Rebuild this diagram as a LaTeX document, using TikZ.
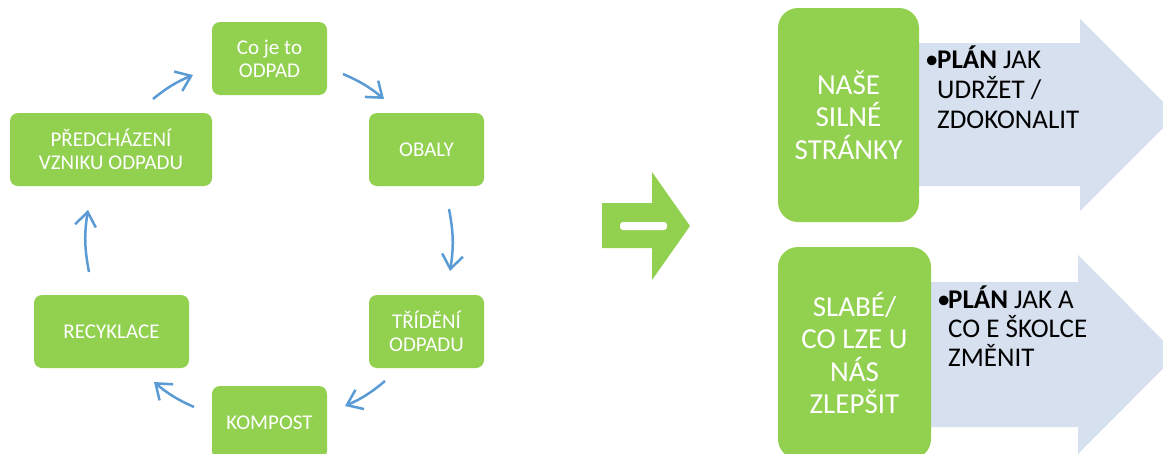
\documentclass[tikz,border=0pt]{standalone}
\usepackage{fontspec}
\setmainfont{Carlito}
\usetikzlibrary{arrows.meta}
\definecolor{grn}{HTML}{92D050}
\definecolor{lblue}{HTML}{D6E0EF}
\definecolor{cblue}{HTML}{5B9BD5}
\begin{document}
\begin{tikzpicture}[x=1pt,y=-1pt,
  cbox/.style={fill=grn, draw=none, rounded corners=8pt, text=white, align=center,
    inner sep=0pt, minimum width=115pt, minimum height=73pt, font=\fontsize{21}{23}\selectfont},
  bigbox/.style={fill=grn, draw=none, rounded corners=20pt, text=white, align=center,
    inner sep=0pt, font=\fontsize{29}{32.5}\selectfont},
  cyc/.style={draw=cblue, line width=2.5pt, -{Straight Barb[length=14pt,width=21pt]}},
  btext/.style={inner sep=0pt, anchor=base west, text=black},
  bigarrow/.style={fill=lblue, draw=none},
  midarrow/.style={fill=grn, draw=none}]
\useasboundingbox (0,0) rectangle (1163,453);
\clip (0,0) rectangle (1163,453);
\fill[white] (0,0) rectangle (1163,453);

% cycle boxes
\node[cbox] (coje) at (269.5,58.5) {Co je to\\ODPAD};
\node[cbox] (obaly) at (426.5,149.5) {OBALY};
\node[cbox, minimum width=202pt] (predch) at (111,149.5) {PŘEDCHÁZENÍ\\VZNIKU ODPADU};
\node[cbox, minimum width=155pt] (recyk) at (111.5,331.5) {RECYKLACE};
\node[cbox] (tride) at (426.5,331.5) {TŘÍDĚNÍ\\ODPADU};
\node[cbox] (kompost) at (269.5,422.5) {KOMPOST};

% cycle arrows
\coordinate (a1s) at (343,74);  \coordinate (a1e) at (384,99);
\coordinate (a2s) at (449,209); \coordinate (a2e) at (450,271);
\coordinate (a3s) at (385,381); \coordinate (a3e) at (345,406);
\coordinate (a4s) at (194,407); \coordinate (a4e) at (154,382);
\coordinate (a5s) at (89,272);  \coordinate (a5e) at (88,210);
\coordinate (a6s) at (153,99);  \coordinate (a6e) at (193,75);
\draw[cyc] (a1s) to[bend left=8] (a1e);
\draw[cyc] (a2s) to[bend left=10] (a2e);
\draw[cyc] (a3s) to[bend left=8] (a3e);
\draw[cyc] (a4s) to[bend left=8] (a4e);
\draw[cyc] (a5s) to[bend left=10] (a5e);
\draw[cyc] (a6s) to[bend left=8] (a6e);

% middle green arrow
\fill[midarrow] (602,203) -- (652,203) -- (652,172) -- (690,226) -- (652,280) -- (652,248) -- (602,248) -- cycle;
\fill[white, rounded corners=3pt] (620,222) rectangle (667,230);

% right side blue arrows
\fill[bigarrow] (900,43) -- (1080,43) -- (1080,19) -- (1176,115) -- (1080,211) -- (1080,186) -- (900,186) -- cycle;
\fill[bigarrow] (910,282) -- (1078,282) -- (1078,255) -- (1177,354.5) -- (1078,454) -- (1078,427) -- (910,427) -- cycle;

% right side green boxes
\node[bigbox, minimum width=141pt, minimum height=214pt] (silne) at (848.5,115) {NAŠE\\SILNÉ\\STRÁNKY};
\node[bigbox, minimum width=153pt, minimum height=212pt] (slabe) at (854.5,353) {SLABÉ/\\CO LZE U\\NÁS\\ZLEPŠIT};

% texts in blue arrows
\node[btext, font=\fontsize{27}{30}\selectfont] (plan1) at (925,68)
  {\vtop{\hbox{\makebox[12pt][l]{•}\textbf{PLÁN} JAK}\hbox{\hspace*{12pt}UDRŽET /}\hbox{\hspace*{12pt}ZDOKONALIT}}};
\node[btext, font=\fontsize{27}{29}\selectfont] (plan2) at (937,308)
  {\vtop{\hbox{\makebox[11pt][l]{•}\textbf{PLÁN} JAK A}\hbox{\hspace*{11pt}CO E ŠKOLCE}\hbox{\hspace*{11pt}ZMĚNIT}}};
\end{tikzpicture}
\end{document}
